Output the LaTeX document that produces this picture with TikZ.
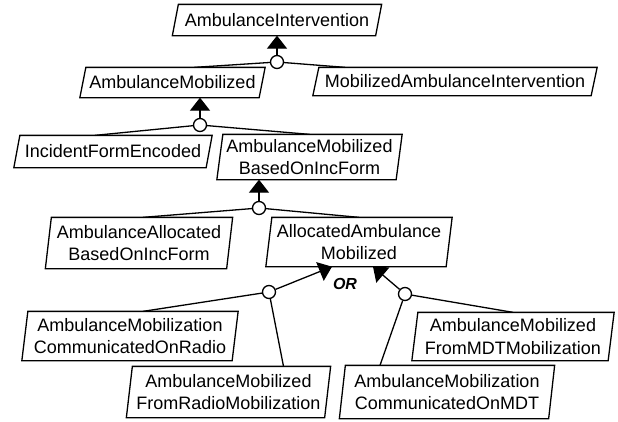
\documentclass[tikz,border=0pt]{standalone}
\usepackage{fontspec}
\setmainfont{Liberation Sans}
\usetikzlibrary{arrows.meta}

\begin{document}
\begin{tikzpicture}[x=1pt, y=-1pt, line width=1.3pt,
    goal/.style={rectangle, inner sep=0pt, align=center,
      font=\fontsize{18}{22.5}\selectfont},
    joint/.style={circle, draw, fill=white, minimum size=13pt, inner sep=0pt},
    refine/.style={-{Triangle[width=20pt,length=13pt]}}]
  \useasboundingbox (0,0) rectangle (618,421);

  \node[goal, minimum width=202pt, minimum height=30pt] (ai)   at (277,20)    {AmbulanceIntervention};
  \node[goal, minimum width=178pt, minimum height=29pt] (am)   at (172.5,82.5) {AmbulanceMobilized};
  \node[goal, minimum width=277pt, minimum height=27pt] (mai)  at (455,81.5)  {MobilizedAmbulanceIntervention};
  \node[goal, minimum width=191pt, minimum height=31pt] (ife)  at (113,151.5) {IncidentFormEncoded};
  \node[goal, minimum width=178pt, minimum height=44pt] (amb)  at (309.5,157) {AmbulanceMobilized\\BasedOnIncForm};
  \node[goal, minimum width=180pt, minimum height=50pt] (aab)  at (139,243)   {AmbulanceAllocated\\BasedOnIncForm};
  \node[goal, minimum width=179pt, minimum height=48pt] (aam)  at (359,242)   {AllocatedAmbulance\\Mobilized};
  \node[goal, minimum width=209pt, minimum height=48pt] (amcr) at (130,336)   {AmbulanceMobilization\\CommunicatedOnRadio};
  \node[goal, minimum width=197pt, minimum height=50pt] (amfr) at (228.5,392) {AmbulanceMobilized\\FromRadioMobilization};
  \node[goal, minimum width=195pt, minimum height=47pt] (amfm) at (513,336.5) {AmbulanceMobilized\\FromMDTMobilization};
  \node[goal, minimum width=208pt, minimum height=52pt] (amcm) at (447,392)   {AmbulanceMobilization\\CommunicatedOnMDT};

  % slanted goal outlines
  \foreach \g in {ai,am,mai,ife,amb,aab,aam,amcr,amfr,amfm,amcm}
    \draw ([xshift=3pt]\g.north west) -- ([xshift=3pt]\g.north east)
      -- ([xshift=-3pt]\g.south east) -- ([xshift=-3pt]\g.south west) -- cycle;

  \node[joint] (j1) at (277,62)  {};
  \node[joint] (j2) at (200,125) {};
  \node[joint] (j3) at (259,208) {};
  \node[joint] (j4) at (269,292) {};
  \node[joint] (j5) at (405,294) {};

  \draw[refine] (j1) -- (ai.south);
  \draw (j1) -- ([xshift=22pt]am.north);
  \draw (j1) -- ([xshift=-110pt]mai.north);

  \draw[refine] (j2) -- ([xshift=27.5pt]am.south);
  \draw (j2) -- ([xshift=-18pt]ife.north);
  \draw (j2) -- (amb.north);

  \draw[refine] (j3) -- ([xshift=-50.5pt]amb.south);
  \draw (j3) -- ([xshift=4pt]aab.north);
  \draw (j3) -- (aam.north);

  \draw[refine] (j4) -- ([xshift=-27pt]aam.south);
  \draw (j4) -- ([xshift=13pt]amcr.north);
  \draw (j4) -- ([xshift=55pt]amfr.north);

  \draw[refine] (j5) -- ([xshift=14pt]aam.south);
  \draw (j5) -- (amfm.north);
  \draw (j5) -- ([xshift=-67pt]amcm.north);

  \node[font=\fontsize{16}{18}\selectfont\bfseries\itshape] (or) at (345,284) {OR};
\end{tikzpicture}
\end{document}
